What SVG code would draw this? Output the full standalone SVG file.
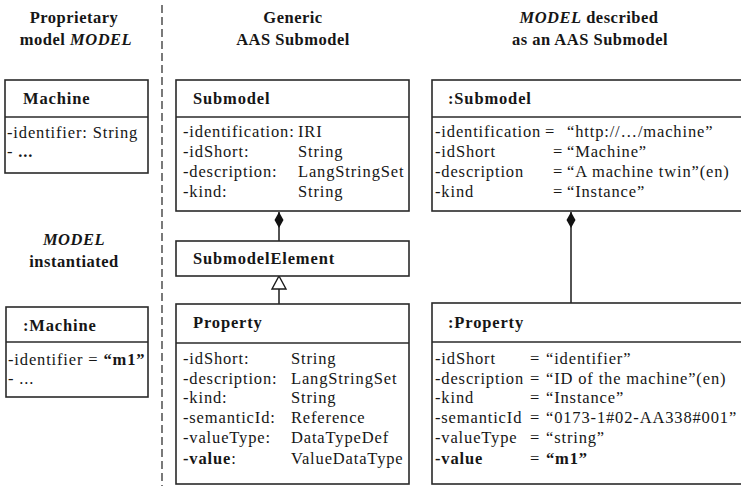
<svg xmlns="http://www.w3.org/2000/svg" width="741" height="486" viewBox="0 0 741 486">
  <style>
    text { font-family: "Liberation Serif", "DejaVu Serif", serif; font-size: 16.5px; fill: #161616; letter-spacing: 0.85px; }
    .b { font-weight: bold; }
    .i { font-style: italic; }
    .h { font-weight: bold; text-anchor: middle; letter-spacing: 0.5px; }
    .box { fill: #ffffff; stroke: #2a2a2a; stroke-width: 1.6; }
    .sep { stroke: #2a2a2a; stroke-width: 1.6; }
    .link { stroke: #1a1a1a; stroke-width: 1.5; fill: none; }
  </style>
  <defs>
    <!-- filled composition diamond, drawn along the line direction -->
    <marker id="diamond" viewBox="0 0 16 10" refX="0" refY="5" markerWidth="16" markerHeight="10" markerUnits="userSpaceOnUse" orient="auto">
      <path d="M0 5 L8 0.5 L16 5 L8 9.5 Z" fill="#111"/>
    </marker>
  </defs>
  <rect width="741" height="486" fill="#ffffff"/>

  <!-- column headings -->
  <g id="headings">
    <text class="h" x="74" y="23">Proprietary</text>
    <text class="h" x="76" y="45">model <tspan class="i">MODEL</tspan></text>
    <text class="h" x="293" y="23">Generic</text>
    <text class="h" x="293" y="45">AAS Submodel</text>
    <text class="h" x="589" y="23"><tspan class="i">MODEL</tspan> described</text>
    <text class="h" x="590" y="45">as an AAS Submodel</text>
    <text class="h" x="74" y="245"><tspan class="i">MODEL</tspan></text>
    <text class="h" x="74" y="267">instantiated</text>
  </g>

  <!-- divider between proprietary and AAS columns -->
  <line x1="162" y1="5" x2="162" y2="486" stroke="#333" stroke-width="1.3" stroke-dasharray="8 4"/>

  <!-- connectors -->
  <g id="connectors">
    <line class="link" x1="279" y1="212" x2="279" y2="241" marker-start="url(#diamond)"/>
    <line class="link" x1="279" y1="289" x2="279" y2="304"/>
    <path d="M279 276 L286 289 L272 289 Z" fill="#fff" stroke="#1a1a1a" stroke-width="1.4"/>
    <line class="link" x1="571" y1="212" x2="571" y2="303" marker-start="url(#diamond)"/>
  </g>

  <!-- Machine class -->
  <g id="machine">
    <rect class="box" x="5" y="80" width="143" height="93"/>
    <line class="sep" x1="5" y1="117" x2="148" y2="117"/>
    <text class="b" x="23" y="104">Machine</text>
    <text x="7" y="138">-identifier: String</text>
    <text x="7" y="157">- <tspan class="b">...</tspan></text>
  </g>

  <!-- :Machine instance -->
  <g id="machine-instance">
    <rect class="box" x="6" y="307" width="142" height="90"/>
    <line class="sep" x1="6" y1="342" x2="148" y2="342"/>
    <text class="b" x="23" y="331">:Machine</text>
    <text x="8" y="365">-identifier = <tspan class="b">“m1”</tspan></text>
    <text x="8" y="384">- ...</text>
  </g>

  <!-- Submodel class -->
  <g id="submodel">
    <rect class="box" x="176" y="80" width="233" height="131"/>
    <line class="sep" x1="176" y1="117" x2="409" y2="117"/>
    <text class="b" x="193" y="104">Submodel</text>
    <text x="183" y="137">-identification:</text>
    <text x="298" y="137">IRI</text>
    <text x="183" y="157">-idShort:</text>
    <text x="298" y="157">String</text>
    <text x="183" y="177">-description:</text>
    <text x="298" y="177">LangStringSet</text>
    <text x="183" y="197">-kind:</text>
    <text x="298" y="197">String</text>
  </g>

  <!-- SubmodelElement class -->
  <g id="submodel-element">
    <rect class="box" x="176" y="241" width="233" height="35"/>
    <text class="b" x="193" y="264">SubmodelElement</text>
  </g>

  <!-- Property class -->
  <g id="property">
    <rect class="box" x="176" y="304" width="233" height="180"/>
    <line class="sep" x1="176" y1="343" x2="409" y2="343"/>
    <text class="b" x="193" y="328">Property</text>
    <text x="183" y="364">-idShort:</text>
    <text x="291" y="364">String</text>
    <text x="183" y="384">-description:</text>
    <text x="291" y="384">LangStringSet</text>
    <text x="183" y="403">-kind:</text>
    <text x="291" y="403">String</text>
    <text x="183" y="423">-semanticId:</text>
    <text x="291" y="423">Reference</text>
    <text x="183" y="443">-valueType:</text>
    <text x="291" y="443">DataTypeDef</text>
    <text class="b" x="183" y="464">-value<tspan font-weight="normal">:</tspan></text>
    <text x="291" y="464">ValueDataType</text>
  </g>

  <!-- :Submodel instance -->
  <g id="submodel-instance">
    <rect class="box" x="432" y="80" width="312" height="131"/>
    <line class="sep" x1="432" y1="117" x2="744" y2="117"/>
    <text class="b" x="448" y="104">:Submodel</text>
    <text x="435" y="137">-identification</text>
    <text x="545" y="137">=</text>
    <text x="567" y="137">“http://…/machine”</text>
    <text x="435" y="157">-idShort</text>
    <text x="553" y="157">=</text>
    <text x="567" y="157">“Machine”</text>
    <text x="435" y="177">-description</text>
    <text x="553" y="177">=</text>
    <text x="567" y="177">“A machine twin”(en)</text>
    <text x="435" y="197">-kind</text>
    <text x="553" y="197">=</text>
    <text x="567" y="197">“Instance”</text>
  </g>

  <!-- :Property instance -->
  <g id="property-instance">
    <rect class="box" x="432" y="303" width="312" height="181"/>
    <line class="sep" x1="432" y1="342" x2="744" y2="342"/>
    <text class="b" x="448" y="328">:Property</text>
    <text x="435" y="364">-idShort</text>
    <text x="530" y="364">=</text>
    <text x="546" y="364">“identifier”</text>
    <text x="435" y="384">-description</text>
    <text x="530" y="384">=</text>
    <text x="546" y="384">“ID of the machine”(en)</text>
    <text x="435" y="403">-kind</text>
    <text x="530" y="403">=</text>
    <text x="546" y="403">“Instance”</text>
    <text x="435" y="423">-semanticId</text>
    <text x="530" y="423">=</text>
    <text x="546" y="423">“0173-1#02-AA338#001”</text>
    <text x="435" y="443">-valueType</text>
    <text x="530" y="443">=</text>
    <text x="546" y="443">“string”</text>
    <text class="b" x="435" y="464">-value</text>
    <text x="530" y="464">=</text>
    <text class="b" x="546" y="464">“m1”</text>
  </g>
</svg>
